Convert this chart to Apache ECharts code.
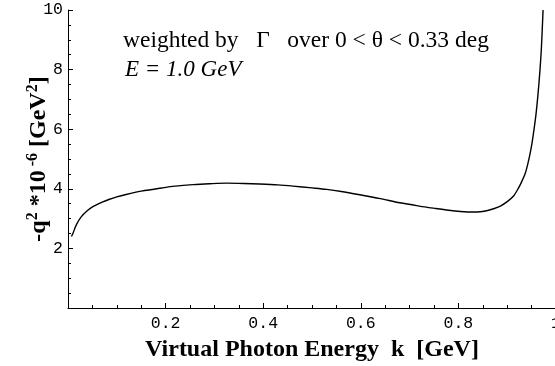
<!DOCTYPE html>
<html>
<head>
<meta charset="utf-8">
<script src="https://cdn.jsdelivr.net/npm/echarts@6/dist/echarts.min.js"></script>
<style>
  html, body { margin: 0; padding: 0; background: #fff; }
  #chart { width: 555px; height: 366px; }
</style>
</head>
<body>
<div id="chart"></div>
<script>
// photon energy k [GeV]
var kValues = [0.007, 0.010, 0.017, 0.027, 0.040, 0.051, 0.070, 0.085, 0.100, 0.119,
    0.150, 0.188, 0.220, 0.256, 0.290, 0.325, 0.360, 0.393, 0.430, 0.461,
    0.500, 0.530, 0.560, 0.598, 0.640, 0.680, 0.720, 0.749, 0.780, 0.804,
    0.830, 0.845, 0.860, 0.872, 0.886, 0.900, 0.913, 0.923, 0.930, 0.937,
    0.942, 0.947, 0.951, 0.955, 0.959, 0.963, 0.967, 0.970, 0.9735];
// -q^2 * 10^-6 [GeV^2]
var q2Values = [2.40, 2.50, 2.79, 3.06, 3.27, 3.40, 3.55, 3.65, 3.73, 3.81,
    3.92, 4.02, 4.09, 4.14, 4.17, 4.19, 4.18, 4.16, 4.13, 4.09,
    4.03, 3.98, 3.91, 3.80, 3.67, 3.53, 3.42, 3.35, 3.28, 3.24,
    3.22, 3.23, 3.27, 3.33, 3.42, 3.57, 3.76, 4.02, 4.25, 4.52,
    4.82, 5.19, 5.55, 6.00, 6.50, 7.15, 7.95, 8.70, 10.0];
var xTickLabels = ['0.2', '0.4', '0.6', '0.8', '1'];
var yTickLabels = ['2', '4', '6', '8', '10'];

var seriesData = [];
for (var i = 0; i < kValues.length; i++) {
    seriesData.push([kValues[i], q2Values[i]]);
}

var tickFont = 'Liberation Mono';
var nameFont = 'Liberation Serif';

var myChart = echarts.init(document.getElementById('chart'));
var option = {
    animation: false,
    grid: { left: 68, right: -1, top: 10, bottom: 58, outerBoundsMode: 'none', containLabel: false },
    xAxis: {
        type: 'value',
        min: 0, max: 1, interval: 0.2,
        name: 'Virtual Photon Energy  k  [GeV]',
        nameLocation: 'middle',
        nameGap: 30,
        nameMoveOverlap: false,
        nameTextStyle: { fontFamily: nameFont, fontWeight: 'bold', fontSize: 24, color: '#000' },
        axisLine: { lineStyle: { color: '#000', width: 1 } },
        axisTick: { inside: true, length: 5, lineStyle: { color: '#000' } },
        minorTick: { show: true, splitNumber: 4, length: 3, lineStyle: { color: '#000' } },
        splitLine: { show: false },
        axisLabel: {
            margin: 7,
            fontFamily: tickFont, fontSize: 16.5, color: '#000',
            formatter: function (v) {
                var s = String(Math.round(v * 10) / 10);
                return xTickLabels.indexOf(s) >= 0 ? s : '';
            }
        }
    },
    yAxis: {
        type: 'value',
        min: 0, max: 10, interval: 2,
        name: '{b|-q}{s|2}{b| *10}{s| -6}{b| [GeV}{s|2}{b|]}',
        nameLocation: 'middle',
        nameGap: 15,
        nameMoveOverlap: false,
        nameRotate: 90,
        nameTextStyle: {
            rich: {
                b: { fontFamily: nameFont, fontWeight: 'bold', fontSize: 24, color: '#000', lineHeight: 28 },
                s: { fontFamily: nameFont, fontWeight: 'bold', fontSize: 16, color: '#000', lineHeight: 16, verticalAlign: 'top' }
            }
        },
        axisLine: { show: true, lineStyle: { color: '#000', width: 1 } },
        axisTick: { show: true, inside: true, length: 5, lineStyle: { color: '#000' } },
        minorTick: { show: true, splitNumber: 4, length: 3, lineStyle: { color: '#000' } },
        splitLine: { show: false },
        axisLabel: {
            margin: 5,
            fontFamily: tickFont, fontSize: 16.5, color: '#000',
            formatter: function (v) {
                var s = String(v);
                return yTickLabels.indexOf(s) >= 0 ? s : '';
            }
        }
    },
    graphic: [
        {
            type: 'text', left: 123, top: 29,
            style: { text: 'weighted by   \u0393   over 0 < \u03b8 < 0.33 deg', font: '23.5px "Liberation Serif"', fill: '#000' }
        },
        {
            type: 'text', left: 125, top: 58,
            style: { text: 'E = 1.0 GeV', font: 'italic 23px "Liberation Serif"', fill: '#000' }
        }
    ],
    series: [{
        type: 'line',
        data: seriesData,
        smooth: 0.3,
        showSymbol: false,
        clip: true,
        lineStyle: { color: '#000', width: 1.4 }
    }]
};
myChart.setOption(option);
</script>
</body>
</html>
